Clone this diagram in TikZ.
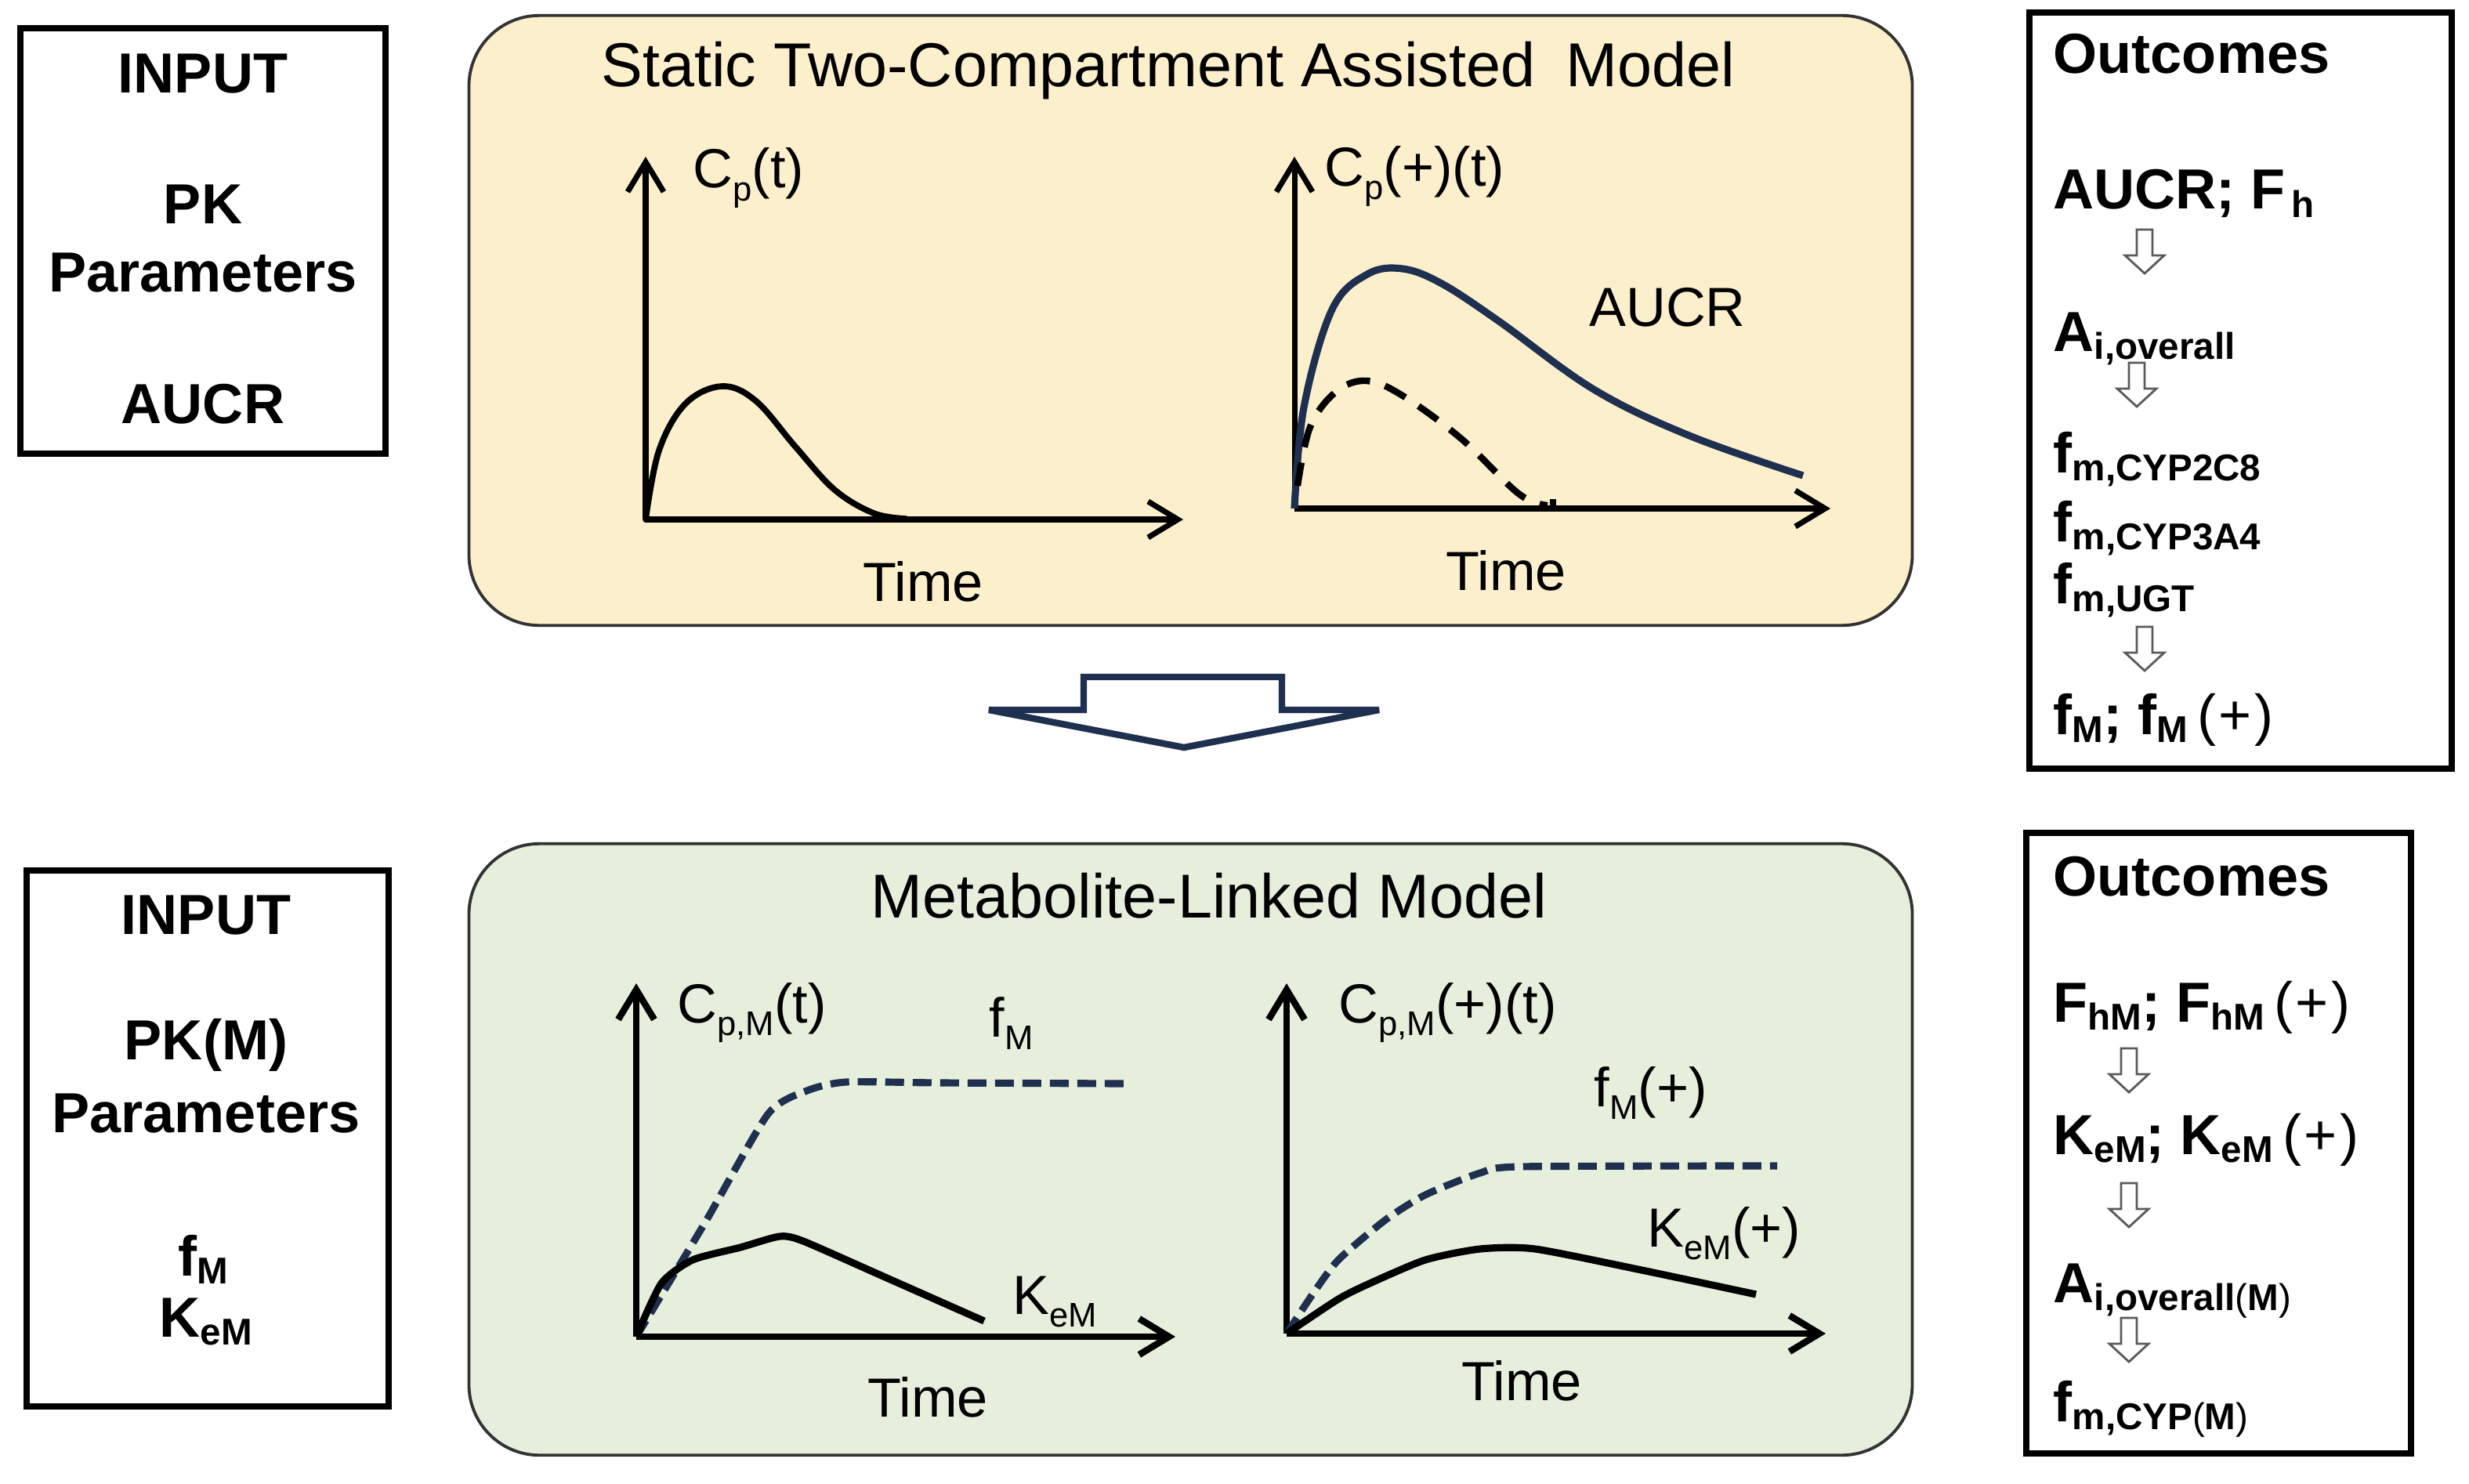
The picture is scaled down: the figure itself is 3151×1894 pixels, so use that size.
\documentclass[tikz,border=0pt]{standalone}
\usepackage{fontspec}
\setmainfont{Liberation Sans}
\usepackage{graphicx}
\usetikzlibrary{arrows.meta}
\definecolor{panelY}{HTML}{FCEFCC}
\definecolor{panelG}{HTML}{E6EFDC}
\definecolor{navy}{HTML}{1F2F4F}
\definecolor{arrgrey}{HTML}{5A5A5A}
\newcommand{\gsb}[1]{\raisebox{-0.45ex}{\scalebox{0.62}{#1}}}
\newcommand{\bsb}[1]{\raisebox{-0.28ex}{\scalebox{0.66}{#1}}}
\newcommand{\pls}{{\mdseries\,(\kern1pt+\kern1pt)}}
\begin{document}
\begin{tikzpicture}[x=0.01cm,y=-0.01cm,
  panel/.style={draw=black!80, line width=1.1pt, rounded corners=0.9cm},
  inbox/.style={draw=black, line width=2.3pt},
  btxt/.style={font=\fontsize{20.5}{24}\selectfont\bfseries, inner sep=0pt},
  gtxt/.style={font=\fontsize{20}{24}\selectfont, inner sep=0pt},
  ttl/.style={font=\fontsize{22.5}{26}\selectfont, inner sep=0pt},
  axis/.style={line width=2pt, -{Straight Barb[length=0.38cm,width=0.46cm]}},
  axisb/.style={line width=2.4pt, -{Straight Barb[length=0.38cm,width=0.46cm]}},
  curve/.style={line width=2.2pt},
  curveb/.style={line width=2.6pt},
  darr/.pic={\draw[arrgrey, line width=0.8pt, fill=white, line join=miter]
     (-10,0) -- (10,0) -- (10,33) -- (25,33) -- (0,56) -- (-25,33) -- (-10,33) -- cycle;}
]
\useasboundingbox (0,0) rectangle (3151,1894);
\fill[white] (0,0) rectangle (3151,1894);

% ---------- panels ----------
\node[panel, fill=panelY, minimum width=18.41cm, minimum height=7.78cm] (ptop) at (1519.5,409) {};
\node[panel, fill=panelG, minimum width=18.41cm, minimum height=7.80cm] (pbot) at (1519.5,1467) {};

% ---------- input boxes ----------
\node[inbox, minimum width=4.66cm, minimum height=5.43cm] (in1) at (259,307.5) {};
\node[btxt] (in1a) at (259,94) {INPUT};
\node[btxt] (in1b) at (259,261) {PK};
\node[btxt] (in1c) at (259,348) {Parameters};
\node[btxt] (in1d) at (259,516) {AUCR};

\node[inbox, minimum width=4.62cm, minimum height=6.84cm] (in2) at (265,1453) {};
\node[btxt] (in2a) at (263,1168) {INPUT};
\node[btxt] (in2b) at (263,1334) {PK(M)};
\node[btxt] (in2c) at (263,1421) {Parameters};
\node[btxt, anchor=base] (in2d) at (259,1628) {f\bsb{M}};
\node[btxt, anchor=base] (in2e) at (263,1706) {K\bsb{eM}};

% ---------- outcome boxes ----------
\node[inbox, minimum width=5.39cm, minimum height=9.65cm] (out1) at (2859.5,498.5) {};
\node[btxt, anchor=base west] (o1a) at (2620,94) {Outcomes};
\node[btxt, anchor=base west] (o1b) at (2620,267) {AUCR; F\bsb{\,h}};
\pic at (2737,293) {darr};
\node[btxt, anchor=base west] (o1c) at (2620,448) {A\bsb{i,overall}};
\pic at (2727,463) {darr};
\node[btxt, anchor=base west] (o1d) at (2620,603) {f\bsb{m,CYP2C8}};
\node[btxt, anchor=base west] (o1e) at (2620,691) {f\bsb{m,CYP3A4}};
\node[btxt, anchor=base west] (o1f) at (2620,770) {f\bsb{m,UGT}};
\pic at (2737,800) {darr};
\node[btxt, anchor=base west] (o1g) at (2620,937) {f\bsb{M}; f\bsb{M}\pls};

\node[inbox, minimum width=4.91cm, minimum height=7.92cm] (out2) at (2831.5,1459) {};
\node[btxt, anchor=base west] (o2a) at (2620,1143) {Outcomes};
\node[btxt, anchor=base west] (o2b) at (2620,1304) {F\bsb{hM}; F\bsb{hM}\pls};
\pic at (2717,1338) {darr};
\node[btxt, anchor=base west] (o2c) at (2620,1473) {K\bsb{eM}; K\bsb{eM}\pls};
\pic at (2717,1510) {darr};
\node[btxt, anchor=base west] (o2d) at (2620,1662) {A\bsb{i,overall{\mdseries(}M{\mdseries)}}};
\pic at (2717,1682) {darr};
\node[btxt, anchor=base west] (o2e) at (2620,1814) {f\bsb{m,CYP{\mdseries(}M{\mdseries)}}};

% ---------- big arrow between panels ----------
\draw[navy, line width=2.4pt, fill=white, line join=miter]
  (1383,864) -- (1636,864) -- (1636,906) -- (1760,906) -- (1511,954) -- (1262,906) -- (1383,906) -- cycle;

% ---------- top panel ----------
\node[ttl] (t1) at (1491,90) {Static Two-Compartment Assisted\hspace{0.5em}Model};

% left graph
\coordinate (a1o) at (824,663);
\coordinate (a1y) at (824,200);
\coordinate (a1x) at (1510,663);
\draw[axis] (a1o) -- (a1y);
\draw[axis] (a1o) -- (a1x);
\draw[curve, line cap=round] plot[smooth, tension=0.6] coordinates
  {(824,663) (841,575) (875,515) (922,493) (965,512) (1015,570) (1065,625) (1115,655) (1156,662)};
\node[gtxt, anchor=base west] (l1) at (884,240) {C\gsb{p}(t)};
\node[gtxt] (l1t) at (1178,742) {Time};

% right graph
\coordinate (a2o) at (1652,649);
\coordinate (a2y) at (1652,200);
\coordinate (a2x) at (2336,649);
\draw[axis] (a2o) -- (a2y);
\draw[axis] (a2o) -- (a2x);
\draw[navy, line width=2.6pt] plot[smooth, tension=0.6] coordinates
  {(1652,649) (1664,520) (1700,395) (1745,350) (1790,343) (1840,362) (1913,410) (2034,497) (2156,556) (2301,607)};
\draw[line width=2.4pt, dash pattern=on 0.3cm off 0.2cm] plot[smooth, tension=0.6] coordinates
  {(1656,620) (1672,545) (1705,500) (1744,486) (1790,505) (1865,560) (1938,630) (1975,645)};
\draw[line width=2.5pt] (1982,637) -- (1982,650);
\node[gtxt, anchor=base west] (l2) at (1690,238) {C\gsb{p}(+)(t)};
\node[gtxt] (l2a) at (2128,392) {AUCR};
\node[gtxt] (l2t) at (1922,728) {Time};

% ---------- bottom panel ----------
\node[ttl] (t2) at (1543,1143) {Metabolite-Linked Model};

% left graph
\coordinate (b1o) at (812,1706);
\coordinate (b1y) at (812,1255);
\coordinate (b1x) at (1500,1706);
\draw[axisb] (b1o) -- (b1y);
\draw[axisb] (b1o) -- (b1x);
\draw[navy, line width=2.6pt, dash pattern=on 0.24cm off 0.11cm] plot[smooth, tension=0.4] coordinates
  {(812,1706) (900,1560) (980,1422) (1030,1392) (1080,1381) (1200,1382) (1435,1383)};
\draw[curveb] plot[smooth, tension=0.4] coordinates
  {(812,1706) (844,1638) (884,1608) (945,1592) (995,1578) (1025,1584) (1125,1628) (1256,1686)};
\node[gtxt, anchor=base west] (l3) at (864,1305) {C\gsb{p,M}(t)};
\node[gtxt, anchor=base west] (l3f) at (1262,1323) {f\gsb{M}};
\node[gtxt, anchor=base west] (l3k) at (1292,1677) {K\gsb{eM}};
\node[gtxt] (l3t) at (1184,1783) {Time};

% right graph
\coordinate (b2o) at (1642,1702);
\coordinate (b2y) at (1642,1255);
\coordinate (b2x) at (2330,1702);
\draw[axisb] (b2o) -- (b2y);
\draw[axisb] (b2o) -- (b2x);
\draw[navy, line width=2.6pt, dash pattern=on 0.24cm off 0.11cm] plot[smooth, tension=0.4] coordinates
  {(1642,1702) (1675,1652) (1708,1608) (1768,1557) (1819,1525) (1889,1497) (1940,1489) (2268,1488)};
\draw[curveb] plot[smooth, tension=0.4] coordinates
  {(1642,1702) (1708,1658) (1748,1638) (1819,1608) (1889,1594) (1959,1594) (2100,1622) (2241,1652)};
\node[gtxt, anchor=base west] (l4) at (1708,1305) {C\gsb{p,M}(+)(t)};
\node[gtxt, anchor=base west] (l4f) at (2034,1412) {f\gsb{M}(+)};
\node[gtxt, anchor=base west] (l4k) at (2102,1591) {K\gsb{eM}(+)};
\node[gtxt] (l4t) at (1942,1762) {Time};
\end{tikzpicture}
\end{document}
